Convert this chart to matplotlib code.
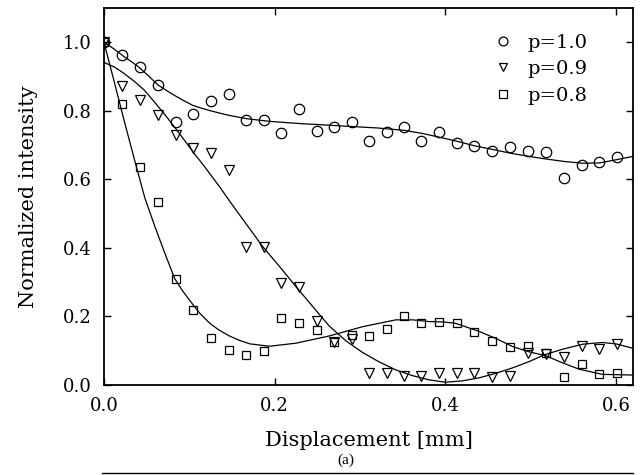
import matplotlib.pyplot as plt
from matplotlib.lines import Line2D

# measured points (same x grid for all three series)
disp = [0.000, 0.021, 0.042, 0.063, 0.084, 0.104, 0.125, 0.146, 0.167, 0.188,
        0.208, 0.229, 0.250, 0.270, 0.291, 0.311, 0.332, 0.352, 0.372, 0.393,
        0.414, 0.434, 0.455, 0.476, 0.497, 0.518, 0.539, 0.560, 0.580, 0.601]

p10 = [1.000, 0.963, 0.929, 0.876, 0.767, 0.790, 0.830, 0.849, 0.772, 0.772,
       0.734, 0.806, 0.740, 0.754, 0.766, 0.712, 0.738, 0.752, 0.712, 0.737,
       0.706, 0.696, 0.684, 0.694, 0.684, 0.681, 0.603, 0.642, 0.652, 0.664]

p09 = [1.000, 0.871, 0.832, 0.788, 0.730, 0.691, 0.676, 0.626, 0.402, 0.402,
       0.299, 0.285, 0.188, 0.126, 0.134, 0.034, 0.034, 0.027, 0.027, 0.036,
       0.034, 0.036, 0.024, 0.026, 0.092, 0.090, 0.081, 0.115, 0.104, 0.120]

p08 = [1.000, 0.819, 0.636, 0.533, 0.310, 0.219, 0.136, 0.102, 0.088, 0.099,
       0.195, 0.180, 0.161, 0.126, 0.146, 0.144, 0.163, 0.201, 0.180, 0.185,
       0.180, 0.154, 0.129, 0.112, 0.115, 0.092, 0.024, 0.061, 0.031, 0.034]

# fitted curves
fit10_x = [0.000, 0.012, 0.023, 0.033, 0.042, 0.053, 0.063, 0.074, 0.084, 0.094,
           0.104, 0.115, 0.125, 0.136, 0.146, 0.167, 0.195, 0.234, 0.250, 0.291,
           0.320, 0.352, 0.373, 0.393, 0.414, 0.434, 0.456, 0.477, 0.498, 0.519,
           0.540, 0.561, 0.581, 0.600, 0.620]
fit10_y = [1.000, 0.980, 0.959, 0.942, 0.925, 0.900, 0.876, 0.858, 0.843, 0.829,
           0.816, 0.807, 0.800, 0.793, 0.787, 0.777, 0.769, 0.762, 0.760, 0.754,
           0.750, 0.743, 0.734, 0.723, 0.711, 0.698, 0.687, 0.676, 0.667, 0.659,
           0.652, 0.647, 0.648, 0.657, 0.667]

fit09_x = [0.000, 0.012, 0.023, 0.035, 0.047, 0.058, 0.070, 0.082, 0.094, 0.105,
           0.117, 0.135, 0.152, 0.169, 0.186, 0.206, 0.225, 0.245, 0.264, 0.284,
           0.303, 0.322, 0.342, 0.362, 0.381, 0.400, 0.420, 0.440, 0.459, 0.479,
           0.498, 0.516, 0.537, 0.561, 0.584, 0.600, 0.620]
fit09_y = [0.941, 0.928, 0.910, 0.887, 0.861, 0.829, 0.793, 0.755, 0.715, 0.678,
           0.640, 0.580, 0.520, 0.462, 0.404, 0.345, 0.287, 0.228, 0.172, 0.128,
           0.095, 0.068, 0.044, 0.027, 0.015, 0.008, 0.012, 0.021, 0.034, 0.050,
           0.068, 0.088, 0.104, 0.119, 0.124, 0.120, 0.107]

fit08_x = [0.000, 0.012, 0.024, 0.036, 0.048, 0.060, 0.072, 0.083, 0.092, 0.101,
           0.112, 0.124, 0.135, 0.147, 0.159, 0.171, 0.194, 0.225, 0.264, 0.303,
           0.342, 0.362, 0.381, 0.397, 0.412, 0.440, 0.460, 0.479, 0.498, 0.518,
           0.537, 0.557, 0.584, 0.620]
fit08_y = [1.000, 0.885, 0.768, 0.655, 0.545, 0.460, 0.380, 0.310, 0.275, 0.245,
           0.210, 0.180, 0.160, 0.143, 0.130, 0.120, 0.113, 0.122, 0.143, 0.170,
           0.190, 0.190, 0.185, 0.184, 0.180, 0.156, 0.135, 0.112, 0.097, 0.085,
           0.065, 0.046, 0.031, 0.029]

labels = ['p=1.0', 'p=0.9', 'p=0.8']

plt.rcParams['font.family'] = 'DejaVu Serif'

fig = plt.figure(figsize=(6.41, 4.75), dpi=100)
ax = fig.add_axes([0.1622, 0.1895, 0.8253, 0.7937])

ax.plot(fit10_x, fit10_y, '-', color='black', lw=0.9)
ax.plot(fit09_x, fit09_y, '-', color='black', lw=0.9)
ax.plot(fit08_x, fit08_y, '-', color='black', lw=0.9)

mk = dict(linestyle='none', mfc='none', mec='black', mew=0.9)
ax.plot(disp, p10, marker='o', ms=7.5, label=labels[0], **mk)
ax.plot(disp, p09, marker='v', ms=7.5, label=labels[1], **mk)
ax.plot(disp, p08, marker='s', ms=6.3, label=labels[2], **mk)

ax.set_xlim(0, 0.62)
ax.set_ylim(0, 1.1)
ax.set_xticks([0.0, 0.2, 0.4, 0.6])
ax.set_yticks([0.0, 0.2, 0.4, 0.6, 0.8, 1.0])
ax.set_xticklabels(['0.0', '0.2', '0.4', '0.6'])
ax.set_yticklabels(['0.0', '0.2', '0.4', '0.6', '0.8', '1.0'])
ax.tick_params(direction='in', top=True, right=True, length=5, width=1,
               labelsize=13, pad=9)
for s in ax.spines.values():
    s.set_linewidth(1.3)

ax.set_xlabel('Displacement [mm]', fontsize=15, labelpad=11)
ax.set_ylabel('Normalized intensity', fontsize=15, labelpad=18)

ax.legend(loc='upper left', bbox_to_anchor=(0.718, 0.958), frameon=False,
          fontsize=14, handlelength=1.0, handletextpad=0.75, labelspacing=0.45,
          borderpad=0, numpoints=1, markerscale=0.85)

fig.text(0.54, 0.032, '(a)', ha='center', va='center', fontsize=11,
         family='Liberation Serif')
fig.add_artist(Line2D([0.159, 0.988], [0.005, 0.005], color='black', lw=1.0,
                      transform=fig.transFigure))

fig.savefig('out.png', dpi=100)
